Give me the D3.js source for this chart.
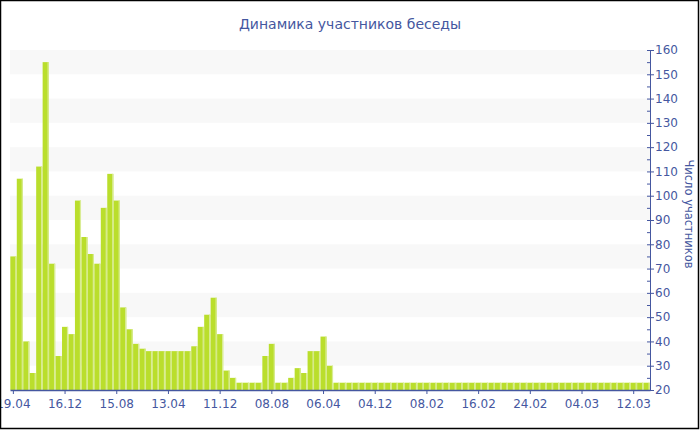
<!DOCTYPE html>
<html>
<head>
<meta charset="utf-8">
<script src="https://cdn.jsdelivr.net/npm/d3@7"></script>
<style>
  body { margin: 0; background: #fff; }
  svg { display: block; font-family: "DejaVu Sans", Verdana, sans-serif; }
</style>
</head>
<body>
<div id="main"></div>
<script>
const title = "Динамика участников беседы";
const yTitle = "Число участников";

// participants per period, oldest first
const values = [
  75, 107, 40, 27, 112, 155, 72, 34, 46, 43,
  98, 83, 76, 72, 95, 109, 98, 54, 45, 39,
  37, 36, 36, 36, 36, 36, 36, 36, 38, 46,
  51, 58, 43, 28, 25, 23, 23, 23, 23, 34,
  39, 23, 23, 25, 29, 27, 36, 36, 42, 30,
  23, 23, 23, 23, 23, 23, 23, 23, 23, 23,
  23, 23, 23, 23, 23, 23, 23, 23, 23, 23,
  23, 23, 23, 23, 23, 23, 23, 23, 23, 23,
  23, 23, 23, 23, 23, 23, 23, 23, 23, 23,
  23, 23, 23, 23, 23, 23, 23, 23, 23
];

// one label every 8 bars
const tickLabels = ["19.04", "16.12", "15.08", "13.04", "11.12", "08.08", "06.04",
  "04.12", "08.02", "16.02", "24.02", "04.03", "12.03"];
const tickStep = 8;

const yTicks = d3.range(20, 161, 10);
const yMinor = d3.range(25, 160, 10);
const bands = d3.range(30, 160, 20);

const width = 700;
const height = 430;
const plotLeft = 10, plotRight = 650, plotTop = 50, plotBottom = 390;
const blue = "#4557a0";

const svg = d3.select("#main")
  .append("svg")
  .attr("width", width)
  .attr("height", height);

const categories = d3.range(values.length);

const x = d3.scaleBand()
  .domain(categories)
  .range([plotLeft, plotRight])
  .paddingInner(0.06)
  .paddingOuter(0.05);

const y = d3.scaleLinear()
  .domain([20, 160])
  .range([plotBottom, plotTop]);

// striped background
svg.append("g")
  .selectAll("rect")
  .data(bands)
  .enter()
  .append("rect")
  .attr("x", plotLeft)
  .attr("width", plotRight - plotLeft)
  .attr("y", d => y(d + 10))
  .attr("height", d => y(d) - y(d + 10))
  .style("fill", "#f8f8f8");

// bars
const bar = svg.append("g")
  .selectAll("g")
  .data(values)
  .enter()
  .append("g");

bar.append("rect")
  .attr("x", (d, i) => x(i))
  .attr("y", d => y(d))
  .attr("width", x.bandwidth())
  .attr("height", d => y(20) - y(d))
  .style("fill", "#bade2c");

bar.append("rect")
  .attr("x", (d, i) => x(i) + x.bandwidth() - 1.2)
  .attr("y", d => y(d))
  .attr("width", 1.2)
  .attr("height", d => y(20) - y(d))
  .style("fill", "#d9ec95");

// x axis
const xAxis = d3.axisBottom(x)
  .tickValues(categories.filter(i => i % tickStep === 0))
  .tickFormat(i => tickLabels[i / tickStep])
  .tickSize(4)
  .tickSizeOuter(0);

const gx = svg.append("g")
  .attr("transform", "translate(0," + plotBottom + ")")
  .call(xAxis);

gx.select(".domain").attr("stroke", blue).attr("stroke-width", 1.5);
gx.selectAll(".tick line").attr("stroke", blue);
gx.selectAll(".tick text")
  .attr("fill", blue)
  .attr("dy", "0.95em")
  .style("font-size", "12px")
  .style("font-family", "DejaVu Sans");

// y axis on the right
const yAxis = d3.axisRight(y)
  .tickValues(yTicks)
  .tickSize(4)
  .tickPadding(1)
  .tickSizeOuter(0);

const gy = svg.append("g")
  .attr("transform", "translate(" + plotRight + ",0)")
  .call(yAxis);

gy.select(".domain").attr("stroke", blue);
gy.selectAll(".tick line").attr("stroke", blue).attr("x1", -3);
gy.selectAll(".tick text")
  .attr("fill", blue)
  .style("font-size", "12px")
  .style("font-family", "DejaVu Sans");

gy.append("g")
  .selectAll("line")
  .data(yMinor)
  .enter()
  .append("line")
  .attr("x1", -3)
  .attr("x2", 0)
  .attr("y1", d => y(d) + 0.5)
  .attr("y2", d => y(d) + 0.5)
  .attr("stroke", blue);

// titles
svg.append("text")
  .attr("x", 350)
  .attr("y", 29)
  .attr("text-anchor", "middle")
  .style("font-size", "14px")
  .style("fill", blue)
  .text(title);

svg.append("text")
  .attr("transform", "translate(685,214) rotate(90)")
  .attr("text-anchor", "middle")
  .style("font-size", "11.5px")
  .style("fill", blue)
  .text(yTitle);

// frame
svg.append("rect")
  .attr("x", 0.5)
  .attr("y", 0.5)
  .attr("width", 698)
  .attr("height", 428)
  .style("fill", "none")
  .style("stroke", "#000")
  .style("stroke-width", 1.5);
</script>
</body>
</html>
